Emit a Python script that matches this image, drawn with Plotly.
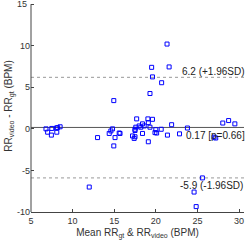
import plotly.graph_objects as go

mean_rr = [6.8, 7.0, 7.5, 7.45, 8.05, 8.1, 8.2, 8.5,
           12.0, 13.0,
           14.4, 14.6, 14.8, 14.95, 15.1, 14.95, 15.6, 15.7,
           17.2, 17.4, 17.5, 17.5, 17.5, 17.6, 17.7, 18.0, 18.2, 18.4, 18.4, 18.6,
           19.05, 19.1, 19.1, 19.3, 19.3, 19.5, 19.6, 19.6, 19.9, 20.0, 20.1,
           20.7, 20.65, 21.35, 21.6, 21.4, 21.9, 22.85, 23.8,
           24.6, 24.85, 25.6, 27.0, 27.2, 28.05, 28.75, 29.5]
diff_rr = [0.0, -0.4, 0.05, -0.75, 0.1, -0.4, 0.15, 0.25,
           -7.0, -1.05,
           -0.55, -0.25, 0.0, 3.4, -1.05, -2.05, -0.5, -0.55,
           -0.85, -1.15, -0.95, -0.05, -0.2, 0.2, 1.2, 0.35, 0.2, 0.6, -0.55, 0.35,
           1.2, 0.75, -1.55, 0.2, 4.25, 7.4, 6.25, 1.15, -0.45, -0.1, -0.5,
           5.55, -0.05, 10.2, 7.45, -0.75, 0.5, -0.6, 0.1,
           -7.6, -9.35, -5.9, -1.0, -1.1, 0.7, 1.0, 0.6]

bias = 0.17
upper = 6.2
lower = -5.9
x_ticks = [5, 10, 15, 20, 25, 30]
y_ticks = [-10, -5, 0, 5, 10, 15]
x_range = [5, 30.6]
y_range = [-10, 15.5]

font = "Liberation Sans, Arial, Helvetica, sans-serif"

fig = go.Figure()
fig.add_trace(go.Scatter(
    x=mean_rr, y=diff_rr, mode="markers",
    marker=dict(symbol="square-open", size=4, color="blue", line=dict(width=1, color="blue")),
    showlegend=False, cliponaxis=False, hoverinfo="skip"))

fig.add_shape(type="line", xref="paper", x0=0, x1=1, yref="y", y0=bias, y1=bias,
              line=dict(color="#555555", width=1), layer="below")
fig.add_shape(type="line", xref="paper", x0=0, x1=1, yref="y", y0=upper, y1=upper,
              line=dict(color="#999999", width=1, dash="dot"), layer="below")
fig.add_shape(type="line", xref="paper", x0=0, x1=1, yref="y", y0=lower, y1=lower,
              line=dict(color="#999999", width=1, dash="dot"), layer="below")
# y axis line only from -10 up to 15
fig.add_shape(type="line", xref="paper", x0=0, x1=0, yref="y", y0=y_ticks[0], y1=y_ticks[-1],
              line=dict(color="#444444", width=1), layer="above")

fig.add_annotation(x=1, xref="paper", y=upper, yref="y", text="6.2 (+1.96SD)",
                   showarrow=False, xanchor="right", yanchor="bottom", yshift=-2, xshift=3,
                   font=dict(family=font, size=10, color="#222222"))
fig.add_annotation(x=1, xref="paper", y=bias, yref="y", text="0.17 [p=0.66]",
                   showarrow=False, xanchor="right", yanchor="top", yshift=-1, xshift=3,
                   font=dict(family=font, size=10, color="#222222"))
fig.add_annotation(x=0.988, xref="paper", y=lower, yref="y", text="-5.9 (-1.96SD)",
                   showarrow=False, xanchor="right", yanchor="top", yshift=0, xshift=4,
                   font=dict(family=font, size=10, color="#222222"))
# top y tick label (plotly hides the label at the top end of this axis)
fig.add_annotation(x=0, xref="paper", y=y_ticks[-1], yref="y", text=str(y_ticks[-1]),
                   showarrow=False, xanchor="right", yanchor="middle", xshift=-2,
                   font=dict(family=font, size=9, color="#333333"))

y_ticktext = [str(v) for v in y_ticks[:-1]] + [""]

fig.update_xaxes(range=x_range, tickmode="array", tickvals=x_ticks,
                 ticktext=[str(v) for v in x_ticks],
                 showline=True, linecolor="#444444", linewidth=1, mirror=False, automargin=False,
                 ticks="inside", ticklen=3, tickcolor="#444444", showgrid=False, zeroline=False,
                 tickfont=dict(family=font, size=9, color="#333333"),
                 title=dict(text="Mean RR<sub>gt</sub> & RR<sub>video</sub> (BPM)",
                            font=dict(family=font, size=10, color="#333333"), standoff=4))
fig.update_yaxes(range=y_range, tickmode="array", tickvals=y_ticks,
                 ticktext=y_ticktext,
                 showline=False, automargin=False, showticklabels=True,
                 ticks="inside", ticklen=3, tickcolor="#444444", showgrid=False, zeroline=False,
                 ticklabeloverflow="allow",
                 tickfont=dict(family=font, size=9, color="#333333"),
                 title=dict(text="RR<sub>video</sub> - RR<sub>gt</sub> (BPM)",
                            font=dict(family=font, size=10, color="#333333"), standoff=2))

fig.update_layout(width=245, height=254, margin=dict(l=31, r=1, t=10, b=32),
                  plot_bgcolor="white", paper_bgcolor="white", hovermode=False)
fig.write_html("out.html", config={"displayModeBar": False, "staticPlot": True},
               post_script="document.body.style.margin='0';document.body.style.overflow='hidden';"
                           "document.getElementById('{plot_id}').style.marginTop='-10px';")
